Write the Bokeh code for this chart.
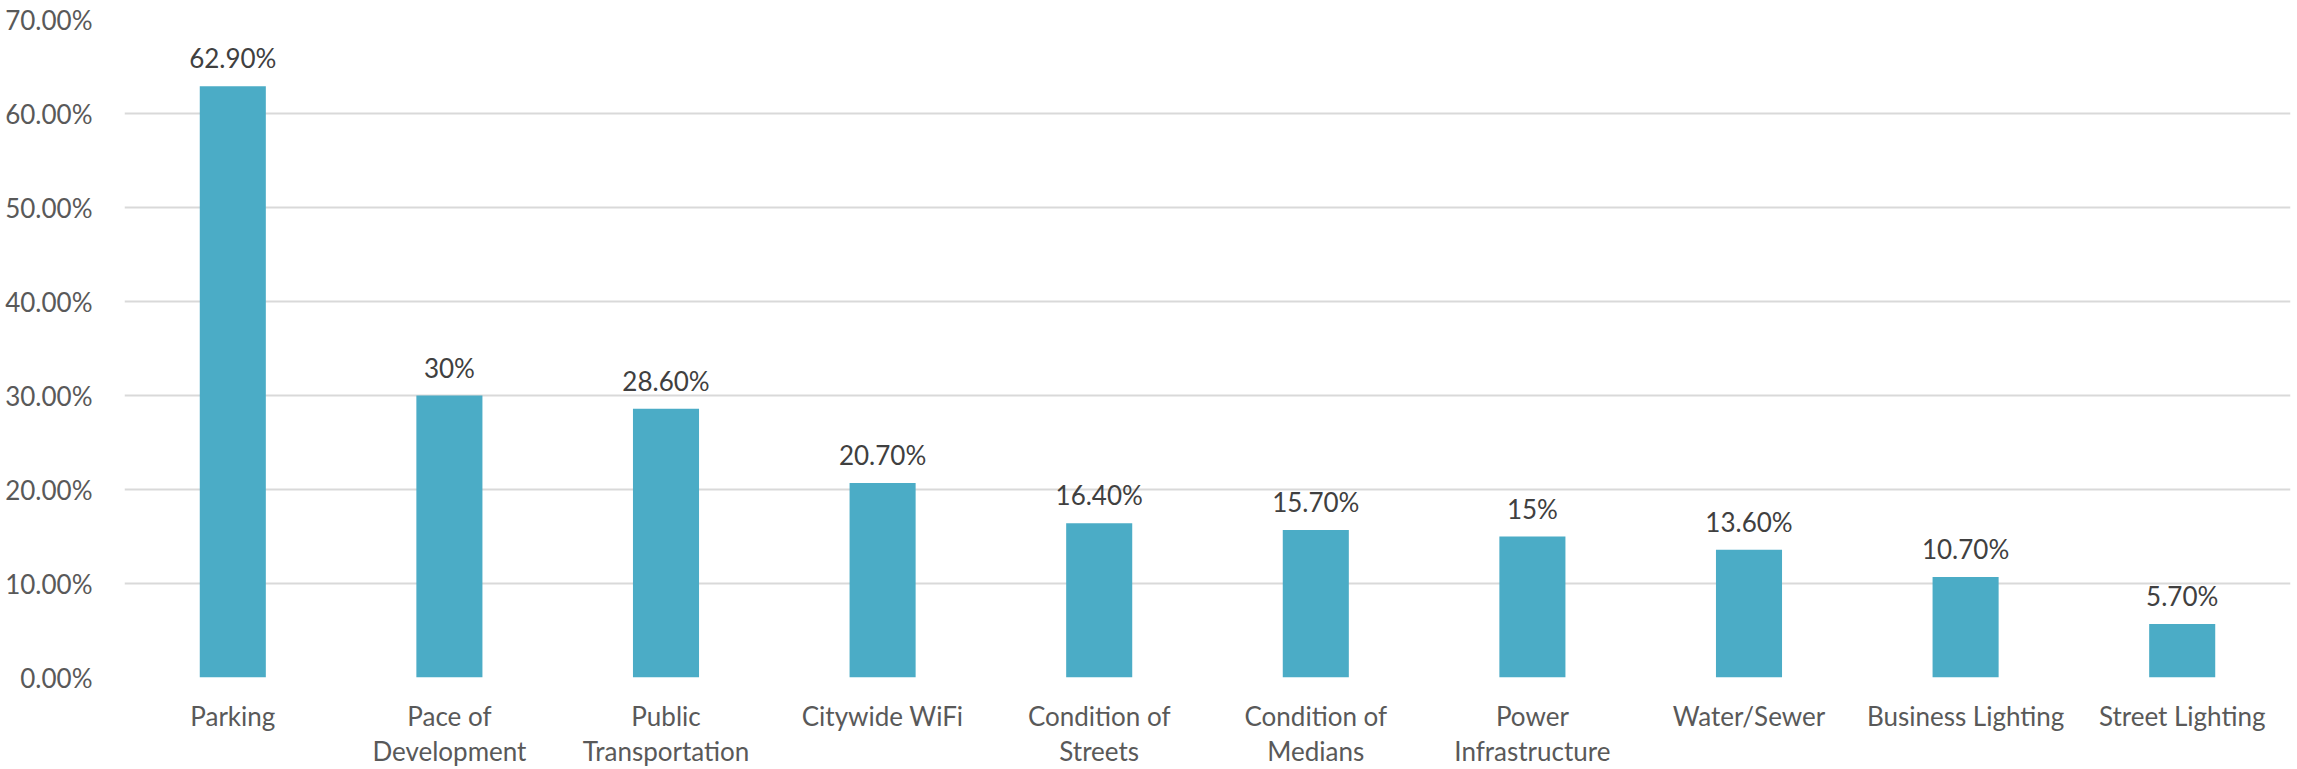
from bokeh.plotting import figure
from bokeh.models import (FactorRange, Range1d, NumeralTickFormatter, FixedTicker,
                          ColumnDataSource, CategoricalAxis, CustomJSTickFormatter)
from bokeh.core.properties import value
from bokeh.embed import file_html
from bokeh.resources import INLINE

# Share of respondents naming each infrastructure issue (percent)
categories = ["Parking", "Pace of Development", "Public Transportation", "Citywide WiFi",
              "Condition of Streets", "Condition of Medians", "Power Infrastructure",
              "Water/Sewer", "Business Lighting", "Street Lighting"]
percent = [62.9, 30.0, 28.6, 20.7, 16.4, 15.7, 15.0, 13.6, 10.7, 5.7]
# long names are wrapped onto two lines under the bars
line_one = ["Parking", "Pace of", "Public", "Citywide WiFi", "Condition of",
            "Condition of", "Power", "Water/Sewer", "Business Lighting", "Street Lighting"]
line_two = ["", "Development", "Transportation", "", "Streets",
            "Medians", "Infrastructure", "", "", ""]
y_ticks = [0.0, 0.1, 0.2, 0.3, 0.4, 0.5, 0.6, 0.7]


def pct_label(v):
    return f"{v:g}%" if float(v).is_integer() else f"{v:.2f}%"


src = ColumnDataSource(dict(
    cat=categories,
    share=[v / 100 for v in percent],
    label=[pct_label(v) for v in percent],
))

FONT = "Lato"
TXT = "#595959"
SIZE = "26px"

p = figure(
    width=2297, height=769,
    x_range=FactorRange(*categories, range_padding=0),
    y_range=Range1d(0, 0.70),
    output_backend="svg", toolbar_location=None,
    min_border_left=124, min_border_right=7,
    min_border_top=19, min_border_bottom=91,
)
p.outline_line_color = None
p.background_fill_color = "white"
p.border_fill_color = "white"

p.vbar(x="cat", top="share", width=0.305, source=src,
       fill_color="#4BACC6", line_color=None)

# value labels above the bars
p.text(x="cat", y="share", text="label", source=src,
       text_align="center", text_baseline="middle", y_offset=-28,
       text_font=value(FONT), text_font_size=SIZE, text_color="#404040")

# y axis: percentage ticks, no line or tick marks
p.yaxis.ticker = FixedTicker(ticks=y_ticks)
p.yaxis.formatter = NumeralTickFormatter(format="0.00%")
p.yaxis.axis_line_color = None
p.yaxis.major_tick_line_color = None
p.yaxis.minor_tick_line_color = None
p.yaxis.major_label_standoff = 26
p.yaxis.major_label_text_font = FONT
p.yaxis.major_label_text_font_size = SIZE
p.yaxis.major_label_text_color = TXT


def line_formatter(lines):
    return CustomJSTickFormatter(args=dict(names=dict(zip(categories, lines))),
                                 code="return names[tick] ?? tick;")


def style_x(axis, standoff):
    axis.axis_line_color = None
    axis.major_tick_line_color = None
    axis.minor_tick_line_color = None
    axis.major_label_standoff = standoff
    axis.major_label_text_font = FONT
    axis.major_label_text_font_size = SIZE
    axis.major_label_text_color = TXT


# first line of each category name
x1 = p.xaxis[0]
x1.formatter = line_formatter(line_one)
style_x(x1, 16)

# second line, stacked directly below
x2 = CategoricalAxis(formatter=line_formatter(line_two))
style_x(x2, -6)
p.add_layout(x2, "below")

p.xgrid.grid_line_color = None
p.ygrid.grid_line_color = "#D9D9D9"
p.ygrid.grid_line_width = 2

open("out.html", "w").write(file_html(p, INLINE))
